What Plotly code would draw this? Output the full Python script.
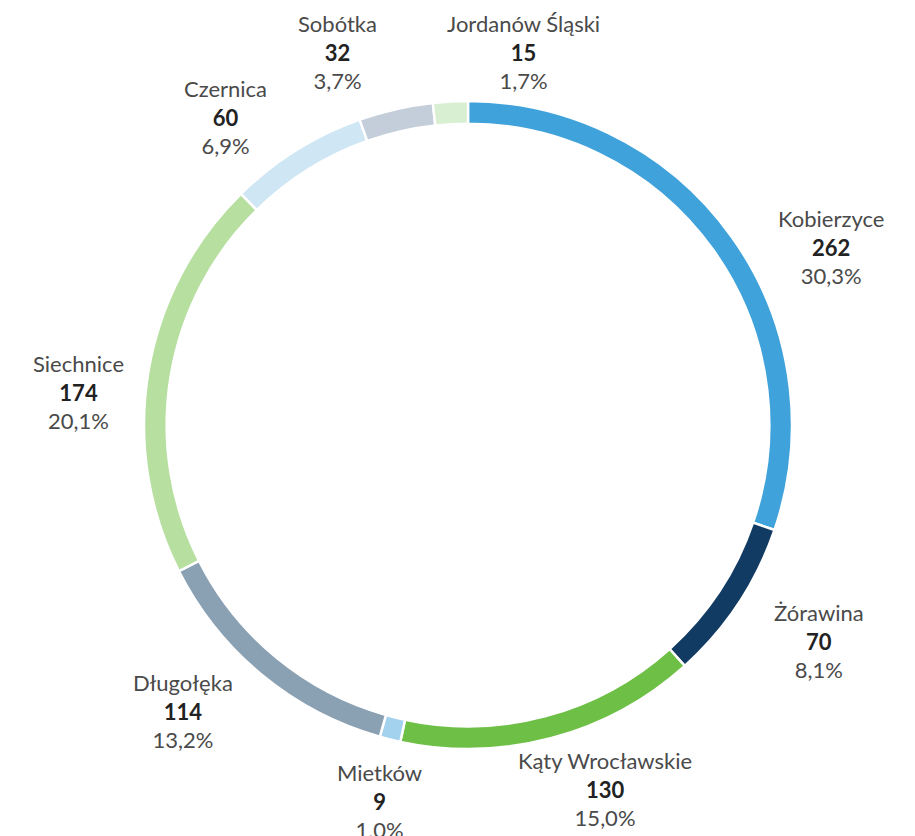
import math
import plotly.graph_objects as go

labels = ["Kobierzyce", "Żórawina", "Kąty Wrocławskie", "Mietków", "Długołęka",
          "Siechnice", "Czernica", "Sobótka", "Jordanów Śląski"]
values = [262, 70, 130, 9, 114, 174, 60, 32, 15]
percent_text = ["30,3%", "8,1%", "15,0%", "1,0%", "13,2%", "20,1%", "6,9%", "3,7%", "1,7%"]
colors = ["#3fa2db", "#123b63", "#6dbf45", "#a3d2ef", "#8aa0b3",
          "#b6dfa0", "#cfe6f4", "#c3ceda", "#d9efd2"]

# label nudges (pixels) — styling only
nudges = [(42, 52), (21, -2), (35, -18), (7, -7), (-34, -19),
          (0, 31), (-33, 27), (-42, 12), (77, 21)]

W, H = 915, 836
PAGE_OFF = 8  # page body margin
cx, cy, R = 468 - PAGE_OFF, 425 - PAGE_OFF, 324
label_r = 395

fig = go.Figure()
fig.add_trace(go.Pie(
    labels=labels, values=values, sort=False, direction="clockwise", rotation=0,
    hole=0.93, textinfo="none", hoverinfo="label+value+percent",
    marker=dict(colors=colors, line=dict(color="white", width=2.5)),
    domain=dict(x=[(cx - R) / W, (cx + R) / W], y=[1 - (cy + R) / H, 1 - (cy - R) / H]),
    showlegend=False,
))

total = sum(values)
cum = 0
annotations = []
for lab, v, pt, (nx, ny) in zip(labels, values, percent_text, nudges):
    mid = (cum + v / 2) / total * 2 * math.pi
    cum += v
    px = cx + label_r * math.sin(mid) + nx
    py = cy - label_r * math.cos(mid) + ny
    annotations.append(dict(
        x=px / W, y=1 - py / H, xref="paper", yref="paper",
        xanchor="center", yanchor="middle", showarrow=False,
        text=f"{lab}<br><b><span style='color:#222222'>{v}</span></b><br>{pt}",
        font=dict(family="Lato, Noto Sans, sans-serif", size=22, color="#4a4a4a"),
        align="center",
    ))

fig.update_layout(
    width=W, height=H, margin=dict(l=0, r=0, t=0, b=0),
    paper_bgcolor="white", plot_bgcolor="white",
    annotations=annotations,
)
fig.write_html("out.html")
